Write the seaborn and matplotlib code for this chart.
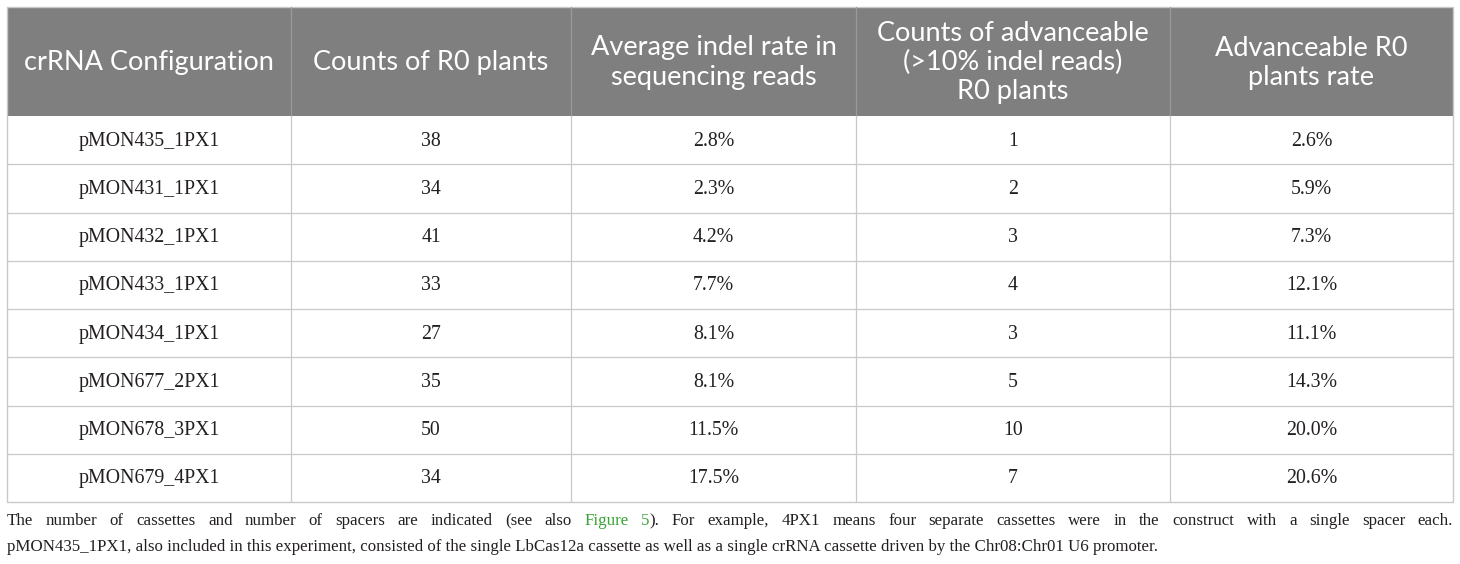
import matplotlib
matplotlib.use("Agg")
import matplotlib.pyplot as plt
import seaborn as sns
import pandas as pd
from matplotlib.patches import Rectangle

sns.set_theme(style="white")
plt.rcParams['font.family'] = ['Lato', 'DejaVu Sans']

# ---- data ----
headers = ["crRNA Configuration", "Counts of R0 plants",
           "Average indel rate in\nsequencing reads",
           "Counts of advanceable\n(>10% indel reads)\nR0 plants",
           "Advanceable R0\nplants rate"]
configs = ["pMON435_1PX1", "pMON431_1PX1", "pMON432_1PX1", "pMON433_1PX1",
           "pMON434_1PX1", "pMON677_2PX1", "pMON678_3PX1", "pMON679_4PX1"]
r0_counts = [38, 34, 41, 33, 27, 35, 50, 34]
indel_rate = ["2.8%", "2.3%", "4.2%", "7.7%", "8.1%", "8.1%", "11.5%", "17.5%"]
adv_counts = [1, 2, 3, 4, 3, 5, 10, 7]
adv_rate = ["2.6%", "5.9%", "7.3%", "12.1%", "11.1%", "14.3%", "20.0%", "20.6%"]
footnote1_pre = "The number of cassettes and number of spacers are indicated (see also"
footnote1_link = "Figure 5"
footnote1_post = "). For example, 4PX1 means four separate cassettes were in the construct with a single spacer each."
footnote2 = ("pMON435_1PX1, also included in this experiment, consisted of the single LbCas12a "
             "cassette as well as a single crRNA cassette driven by the Chr08:Chr01 U6 promoter.")

df = pd.DataFrame({headers[0]: configs, headers[1]: r0_counts, headers[2]: indel_rate,
                   headers[3]: adv_counts, headers[4]: adv_rate})

W, H = 1460, 564
fig = plt.figure(figsize=(W / 100, H / 100), dpi=100)
ax = fig.add_axes([0, 0, 1, 1])
ax.set_xlim(0, W)
ax.set_ylim(H, 0)
ax.axis("off")

col_edges = [7, 291, 571, 856, 1170, 1453]
top, head_bot = 7, 116
row_h = 48.25
n = len(df)
bottom = head_bot + row_h * n

header_color = "#7f7f7f"
line_color = "#c9c9c9"
text_color = "#231f20"
serif = ['Liberation Serif', 'DejaVu Serif']

ax.add_patch(Rectangle((col_edges[0], top), col_edges[-1] - col_edges[0], head_bot - top,
                       facecolor=header_color, edgecolor="none"))
ax.add_patch(Rectangle((col_edges[0], top), col_edges[-1] - col_edges[0], bottom - top,
                       facecolor="none", edgecolor=line_color, lw=1.0))
for x in col_edges[1:-1]:
    ax.plot([x, x], [top, head_bot], color="#9a9a9a", lw=0.9)
    ax.plot([x, x], [head_bot, bottom], color=line_color, lw=0.9)
for i in range(1, n):
    y = head_bot + row_h * i
    ax.plot([col_edges[0], col_edges[-1]], [y, y], color=line_color, lw=0.9)

for j, h in enumerate(df.columns):
    cx = (col_edges[j] + col_edges[j + 1]) / 2
    ax.text(cx, (top + head_bot) / 2 + 1, h, ha="center", va="center", color="white",
            fontsize=19.5, linespacing=1.2)

for i, row in enumerate(df.itertuples(index=False)):
    cy = head_bot + row_h * (i + 0.5)
    for j, v in enumerate(row):
        cx = (col_edges[j] + col_edges[j + 1]) / 2
        ax.text(cx, cy + 1, str(v), ha="center", va="center", color=text_color,
                fontsize=14.3, family=serif)

# footnote line 1, justified
fig.canvas.draw()
r = fig.canvas.get_renderer()
fs_note = 12.2
y1, y2 = 521, 547
segments = []
for w in footnote1_pre.split(" "):
    segments.append((w, text_color))
link_words = footnote1_link.split(" ")
for w in link_words:
    segments.append((w, "#3aa335"))
for w in footnote1_post.split(" "):
    segments.append((w, text_color))
texts, widths = [], []
for w, c in segments:
    t = ax.text(0, y1, w, color=c, fontsize=fs_note, family=serif, va="center", ha="left")
    texts.append(t)
    widths.append(t.get_window_extent(renderer=r).width)
link_end = len(footnote1_pre.split(" ")) + len(link_words) - 1
gaps_allowed = [k != link_end for k in range(len(segments) - 1)]
n_gaps = sum(gaps_allowed)
total_w = col_edges[-1] - col_edges[0]
gap = (total_w - sum(widths)) / n_gaps
x = col_edges[0]
for k, t in enumerate(texts):
    t.set_x(x)
    x += widths[k]
    if k < len(gaps_allowed) and gaps_allowed[k]:
        x += gap
ax.text(col_edges[0], y2, footnote2, color=text_color, fontsize=fs_note, family=serif,
        va="center", ha="left")

fig.savefig("out.png", dpi=100)
